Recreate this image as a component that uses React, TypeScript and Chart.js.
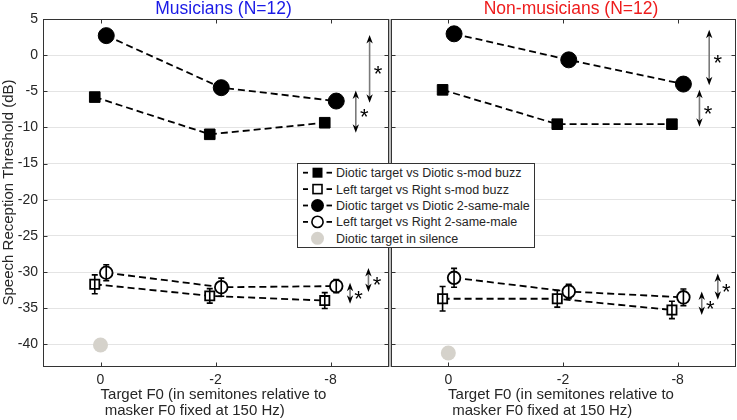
import React, { useEffect, useRef } from 'react';
import { Chart, registerables } from 'chart.js';

Chart.register(...registerables);

const FONT = "'Liberation Sans', Arial, Helvetica, sans-serif";
const TEXT = '#262626';

// ---------- data ----------
const categories = ['0', '-2', '-8'];
const categoryPositions = [1, 2, 3];
const yTickValues = [-40, -35, -30, -25, -20, -15, -10, -5, 0, 5];
const xTitleLines = ['Target F0 (in semitones relative to', ' masker F0 fixed at 150 Hz)'];
const yTitle = 'Speech Reception Threshold (dB)';

const seriesLabels = [
  'Diotic target vs Diotic s-mod buzz',
  'Left target vs Right s-mod buzz',
  'Diotic target vs Diotic 2-same-male',
  'Left target vs Right 2-same-male',
  'Diotic target in silence',
];

// Musicians
const musDioticBuzz = [-5.8, -10.95, -9.35];
const musLeftRightBuzz = [-31.7, -33.3, -33.95];
const musLeftRightBuzzErr = [1.3, 1.0, 1.1];
const musDioticMale = [2.7, -4.5, -6.35];
const musLeftRightMale = [-30.1, -32.1, -31.95];
const musLeftRightMaleErr = [1.1, 1.25, 0.9];
const musSilence = [-40.1];

// Non-musicians
const nonDioticBuzz = [-4.8, -9.55, -9.55];
const nonLeftRightBuzz = [-33.7, -33.7, -35.25];
const nonLeftRightBuzzErr = [1.7, 1.15, 1.2];
const nonDioticMale = [2.95, -0.65, -4.0];
const nonLeftRightMale = [-30.8, -32.7, -33.5];
const nonLeftRightMaleErr = [1.3, 1.0, 1.15];
const nonSilence = [-41.2];

// significance arrows (x in category units, y in dB)
const musArrowX = [3.34, 3.22, 3.17, 3.33];
const musArrowTop = [2.8, -4.9, -31.5, -29.45];
const musArrowBottom = [-6.6, -10.75, -34.4, -32.75];
const nonArrowX = [3.275, 3.19, 3.21, 3.35];
const nonArrowTop = [3.5, -4.8, -32.7, -30.2];
const nonArrowBottom = [-4.15, -9.9, -35.95, -33.85];

type Panel = {
  title: string;
  titleColor: string;
  dioticBuzz: number[];
  leftRightBuzz: number[];
  leftRightBuzzErr: number[];
  dioticMale: number[];
  leftRightMale: number[];
  leftRightMaleErr: number[];
  silence: number[];
  arrowX: number[];
  arrowTop: number[];
  arrowBottom: number[];
  showY: boolean;
  yWidth: number;
  padRight: number;
  width: number;
  left: number;
};

const panels: Panel[] = [
  {
    title: 'Musicians (N=12)', titleColor: '#1a1ae6',
    dioticBuzz: musDioticBuzz, leftRightBuzz: musLeftRightBuzz, leftRightBuzzErr: musLeftRightBuzzErr,
    dioticMale: musDioticMale, leftRightMale: musLeftRightMale, leftRightMaleErr: musLeftRightMaleErr,
    silence: musSilence, arrowX: musArrowX, arrowTop: musArrowTop, arrowBottom: musArrowBottom,
    showY: true, yWidth: 43, padRight: 1, width: 389, left: 0,
  },
  {
    title: 'Non-musicians (N=12)', titleColor: '#ee1c1c',
    dioticBuzz: nonDioticBuzz, leftRightBuzz: nonLeftRightBuzz, leftRightBuzzErr: nonLeftRightBuzzErr,
    dioticMale: nonDioticMale, leftRightMale: nonLeftRightMale, leftRightMaleErr: nonLeftRightMaleErr,
    silence: nonSilence, arrowX: nonArrowX, arrowTop: nonArrowTop, arrowBottom: nonArrowBottom,
    showY: false, yWidth: 2, padRight: 2, width: 348, left: 389,
  },
];

const JITTER = 0.05;
const pts = (vals: number[], off: number) =>
  vals.map((v, i) => ({ x: categoryPositions[i] + off, y: v }));

function buildDatasets(p: Panel): any[] {
  const lineCommon = { borderColor: '#000', borderWidth: 1.8, borderDash: [7, 4], showLine: true, pointBorderColor: '#000' };
  return [
    { ...lineCommon, label: seriesLabels[0], data: pts(p.dioticBuzz, -JITTER), pointStyle: 'rect', pointRadius: 7.5, pointBackgroundColor: '#000', pointBorderWidth: 1 },
    { ...lineCommon, label: seriesLabels[1], data: pts(p.leftRightBuzz, -JITTER), pointStyle: 'rect', pointRadius: 6.5, pointBackgroundColor: '#fff', pointBorderWidth: 1.8 },
    { ...lineCommon, label: seriesLabels[2], data: pts(p.dioticMale, JITTER), pointStyle: 'circle', pointRadius: 8, pointBackgroundColor: '#000', pointBorderWidth: 1 },
    { ...lineCommon, label: seriesLabels[3], data: pts(p.leftRightMale, JITTER), pointStyle: 'circle', pointRadius: 6.3, pointBackgroundColor: '#fff', pointBorderWidth: 1.8 },
    { label: seriesLabels[4], data: pts(p.silence, 0), showLine: false, pointStyle: 'circle', pointRadius: 7.5, pointBackgroundColor: '#d5d2cb', pointBorderColor: '#d5d2cb', pointBorderWidth: 0, borderColor: '#d5d2cb' },
  ];
}

function drawDoubleArrow(ctx: CanvasRenderingContext2D, x: number, t: number, b: number) {
  const head = 8.5, half = 3.2, notch = 6;
  ctx.save();
  ctx.strokeStyle = '#7a7a7a';
  ctx.lineWidth = 1.6;
  ctx.beginPath();
  ctx.moveTo(x, t + notch);
  ctx.lineTo(x, b - notch);
  ctx.stroke();
  ctx.fillStyle = '#000';
  ctx.beginPath();
  ctx.moveTo(x, t);
  ctx.lineTo(x - half, t + head);
  ctx.lineTo(x, t + notch);
  ctx.lineTo(x + half, t + head);
  ctx.closePath();
  ctx.fill();
  ctx.beginPath();
  ctx.moveTo(x, b);
  ctx.lineTo(x - half, b - head);
  ctx.lineTo(x, b - notch);
  ctx.lineTo(x + half, b - head);
  ctx.closePath();
  ctx.fill();
  ctx.restore();
}

function makePlugins(p: Panel): any[] {
  const frame = {
    id: 'frame',
    beforeDatasetsDraw(chart: any) {
      const { ctx, chartArea: a, scales } = chart;
      ctx.save();
      if (!p.showY) {
        ctx.fillStyle = '#bdbdbd';
        ctx.fillRect(0, a.top, 2, a.bottom - a.top + 1);
      }
      const L = Math.round(a.left) + 0.5, R = Math.round(a.right) + 0.5;
      const T = Math.round(a.top) + 0.5, B = Math.round(a.bottom) + 0.5;
      ctx.strokeStyle = '#333';
      ctx.lineWidth = 1;
      ctx.strokeRect(L, T, R - L, B - T);
      ctx.beginPath();
      for (const v of categoryPositions) {
        const px = Math.round(scales.x.getPixelForValue(v)) + 0.5;
        ctx.moveTo(px, B); ctx.lineTo(px, B - 4);
        ctx.moveTo(px, T); ctx.lineTo(px, T + 4);
      }
      for (const v of yTickValues) {
        const py = Math.round(scales.y.getPixelForValue(v)) + 0.5;
        ctx.moveTo(L, py); ctx.lineTo(L + 4, py);
        ctx.moveTo(R, py); ctx.lineTo(R - 4, py);
      }
      ctx.stroke();
      ctx.restore();
    },
  };
  const errorBars = {
    id: 'errorBars',
    afterDatasetsDraw(chart: any) {
      const { ctx, scales: { x, y } } = chart;
      const sets: [number[], number[], number][] = [
        [p.leftRightBuzz, p.leftRightBuzzErr, -JITTER],
        [p.leftRightMale, p.leftRightMaleErr, JITTER],
      ];
      ctx.save();
      ctx.strokeStyle = '#000';
      ctx.lineWidth = 1.6;
      for (const [vals, errs, off] of sets) {
        vals.forEach((v, i) => {
          const px = x.getPixelForValue(categoryPositions[i] + off);
          const top = y.getPixelForValue(v + errs[i]);
          const bot = y.getPixelForValue(v - errs[i]);
          ctx.beginPath();
          ctx.moveTo(px, top); ctx.lineTo(px, bot);
          ctx.moveTo(px - 3, top); ctx.lineTo(px + 3, top);
          ctx.moveTo(px - 3, bot); ctx.lineTo(px + 3, bot);
          ctx.stroke();
        });
      }
      ctx.restore();
    },
  };
  const sig = {
    id: 'sig',
    afterDatasetsDraw(chart: any) {
      const { ctx, scales: { x, y } } = chart;
      p.arrowX.forEach((ax, i) => {
        const px = x.getPixelForValue(ax);
        const t = y.getPixelForValue(p.arrowTop[i]);
        const b = y.getPixelForValue(p.arrowBottom[i]);
        drawDoubleArrow(ctx, px, t, b);
        ctx.save();
        ctx.font = `22px ${FONT}`;
        ctx.fillStyle = '#000';
        ctx.textAlign = 'center';
        ctx.textBaseline = 'alphabetic';
        ctx.fillText('*', px + 8.5, (t + b) / 2 + 12.5);
        ctx.restore();
      });
    },
  };
  const texts = {
    id: 'texts',
    afterDraw(chart: any) {
      const { ctx, chartArea: a } = chart;
      const cx = (a.left + a.right) / 2;
      ctx.save();
      ctx.font = `17.5px ${FONT}`;
      ctx.fillStyle = p.titleColor;
      ctx.textAlign = 'center';
      ctx.textBaseline = 'alphabetic';
      ctx.fillText(p.title, cx + 8, 14);
      ctx.font = `15px ${FONT}`;
      ctx.fillStyle = TEXT;
      ctx.textAlign = 'left';
      const w1 = ctx.measureText(xTitleLines[0]).width;
      const x0 = cx - w1 / 2 - 2;
      ctx.fillText(xTitleLines[0], x0, 398.5);
      ctx.fillText(xTitleLines[1], x0, 415);
      ctx.restore();
    },
  };
  return [frame, errorBars, sig, texts];
}

function PanelChart({ p }: { p: Panel }) {
  const ref = useRef<HTMLCanvasElement | null>(null);
  useEffect(() => {
    if (!ref.current) return;
    const chart = new Chart(ref.current, {
      type: 'line',
      data: { datasets: buildDatasets(p) },
      plugins: makePlugins(p),
      options: {
        responsive: false,
        animation: false,
        devicePixelRatio: 1,
        layout: { autoPadding: false, padding: { top: 19, bottom: 0, left: 0, right: p.padRight } },
        plugins: { legend: { display: false }, tooltip: { enabled: false }, title: { display: false } },
        scales: {
          x: {
            type: 'linear', min: 0.5, max: 3.5,
            afterBuildTicks: (s: any) => { s.ticks = categoryPositions.map((v) => ({ value: v })); },
            afterFit: (s: any) => { s.height = 54; },
            ticks: {
              callback: (_v: any, i: number) => categories[i],
              font: { size: 14, family: FONT }, color: TEXT, padding: 5.5, maxRotation: 0, autoSkip: false,
            },
            grid: { display: false, drawTicks: false },
            border: { display: false },
          },
          y: {
            type: 'linear', min: -43, max: 5,
            afterBuildTicks: (s: any) => { s.ticks = yTickValues.map((v) => ({ value: v })); },
            afterFit: (s: any) => { s.width = p.yWidth; },
            ticks: { display: p.showY, font: { size: 14, family: FONT }, color: TEXT, padding: 5 },
            grid: { color: '#e4e4e4', drawTicks: false, lineWidth: 1 },
            border: { display: false },
            title: { display: p.showY, text: yTitle, font: { size: 15, family: FONT }, color: TEXT, padding: { top: 0, bottom: 0 } },
          },
        },
      } as any,
    });
    return () => chart.destroy();
  }, [p]);
  return (
    <canvas
      ref={ref}
      width={p.width}
      height={420}
      style={{ position: 'absolute', left: p.left, top: 0, width: p.width, height: 420 }}
    />
  );
}

function Legend() {
  const rowY = (i: number) => 9.7 + i * 16.4;
  const marker = (i: number, cy: number) => {
    const cx = 20.5;
    switch (i) {
      case 0: return <rect x={cx - 5} y={cy - 5} width={10} height={10} fill="#000" />;
      case 1: return <rect x={cx - 4.5} y={cy - 4.5} width={9} height={9} fill="#fff" stroke="#000" strokeWidth={1.6} />;
      case 2: return <circle cx={cx} cy={cy} r={6.5} fill="#000" />;
      case 3: return <circle cx={cx} cy={cy} r={5.6} fill="#fff" stroke="#000" strokeWidth={1.6} />;
      default: return <circle cx={cx} cy={cy} r={6.5} fill="#d5d2cb" />;
    }
  };
  return (
    <svg width={238} height={85} style={{ position: 'absolute', left: 297, top: 163 }}>
      <rect x={0.5} y={0.5} width={237} height={84} fill="#fff" stroke="#333" strokeWidth={1} />
      {seriesLabels.map((label, i) => {
        const cy = rowY(i);
        return (
          <g key={label}>
            {i < 4 && (
              <>
                <line x1={6} y1={cy} x2={11} y2={cy} stroke="#000" strokeWidth={1.8} />
                <line x1={29.5} y1={cy} x2={35} y2={cy} stroke="#000" strokeWidth={1.8} />
              </>
            )}
            {marker(i, cy)}
            <text x={39} y={cy + 4.5} fontSize={12.5} fontFamily={FONT} fill={TEXT}>{label}</text>
          </g>
        );
      })}
    </svg>
  );
}

export default function App() {
  return (
    <div style={{ position: 'absolute', left: 0, top: 0, width: 737, height: 420, background: '#fff', overflow: 'hidden' }}>
      {panels.map((p) => <PanelChart key={p.title} p={p} />)}
      <Legend />
    </div>
  );
}
